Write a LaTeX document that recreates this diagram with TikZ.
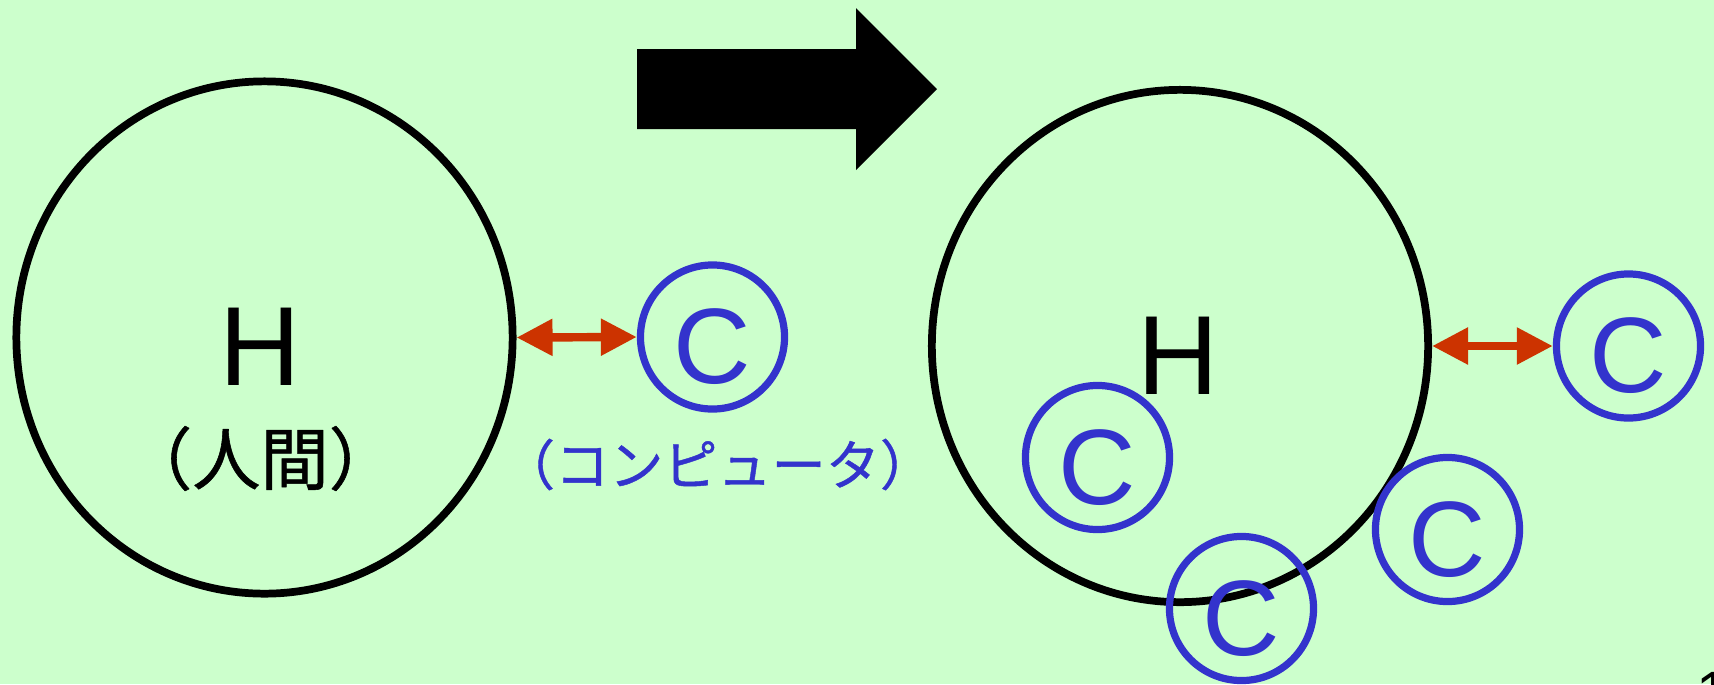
\documentclass[tikz,border=0pt]{standalone}
\usepackage{fontspec}
\setmainfont{Liberation Sans}
\newfontfamily\jpfont[FakeBold=0.8]{Noto Sans CJK JP}
\usetikzlibrary{arrows.meta,shapes.geometric}
\definecolor{hcBack}{HTML}{CCFFCC}
\definecolor{hcInk}{HTML}{000000}
\definecolor{hcBlue}{HTML}{3333CC}
\definecolor{hcRed}{HTML}{CC3300}
\tikzset{
  hc diagram/.style={x=0.01cm, y=-0.01cm, line join=round},
  hc human/.style={ellipse, draw=hcInk, line width=2.2pt, inner sep=0pt,
    minimum width=4.96cm, minimum height=5.12cm},
  hc machine/.style={circle, draw=hcBlue, line width=2.05pt, inner sep=0pt,
    minimum size=1.44cm},
  hc letter/.style={font=\fontsize{32}{32}\selectfont, text=hcInk, inner sep=0pt},
  hc c letter/.style={font=\fontsize{30.5}{30.5}\selectfont, text=hcBlue, inner sep=0pt},
  hc jp label/.style={font=\jpfont\fontsize{19.4}{20}\selectfont, text=hcInk, inner sep=0pt},
  hc jp small/.style={hc jp label, font=\jpfont\fontsize{15.4}{16}\selectfont, text=hcBlue},
  hc link/.style={{Triangle[length=3.6mm,width=3.5mm]}-{Triangle[length=3.6mm,width=3.5mm]},
    draw=hcRed, line width=2.4pt},
  hc step arrow/.style={fill=hcInk}
}

\begin{document}
\begin{tikzpicture}[hc diagram]
\fill[hcBack] (0,0) rectangle (1714,684);
\useasboundingbox (0,0) rectangle (1714,684);
% before: one human, one computer outside
\node[hc human] (human) at (264.5,337.5) {};
\node[hc letter] (humanH) at (260,347) {H};
\node[hc jp label] (humanName) at (260.5,458.5) {（人間）};
\node[hc jp small] (machineName) at (717.5,464.5) {（コンピュータ）};
% after
\node[hc human] (humanB) at (1180,346) {};
\node[hc letter] (humanBH) at (1178,355.5) {H};
\fill[hc step arrow] (637,49) -- (856,49) -- (856,8) -- (937,89) -- (856,170)
  -- (856,129) -- (637,129) -- cycle;
\foreach \name/\x/\y in {mcA/712.5/337,mcB/1628.5/346,mcC/1097.5/457.5,
    mcD/1447.5/529.5,mcE/1241.5/608.5}{
  \node[hc machine] (\name) at (\x,\y) {};
  \node[hc c letter] (\name-c) at ([yshift=-0.1cm]\name.center) {C};
}
\draw[hc link] (human.east) -- (mcA.west);
\draw[hc link] (humanB.east) -- (mcB.west);
\node[font=\fontsize{17}{17}\selectfont, anchor=base west, inner sep=0pt] (pageNo)
  at (1695.5,713) {1};
\end{tikzpicture}
\end{document}
